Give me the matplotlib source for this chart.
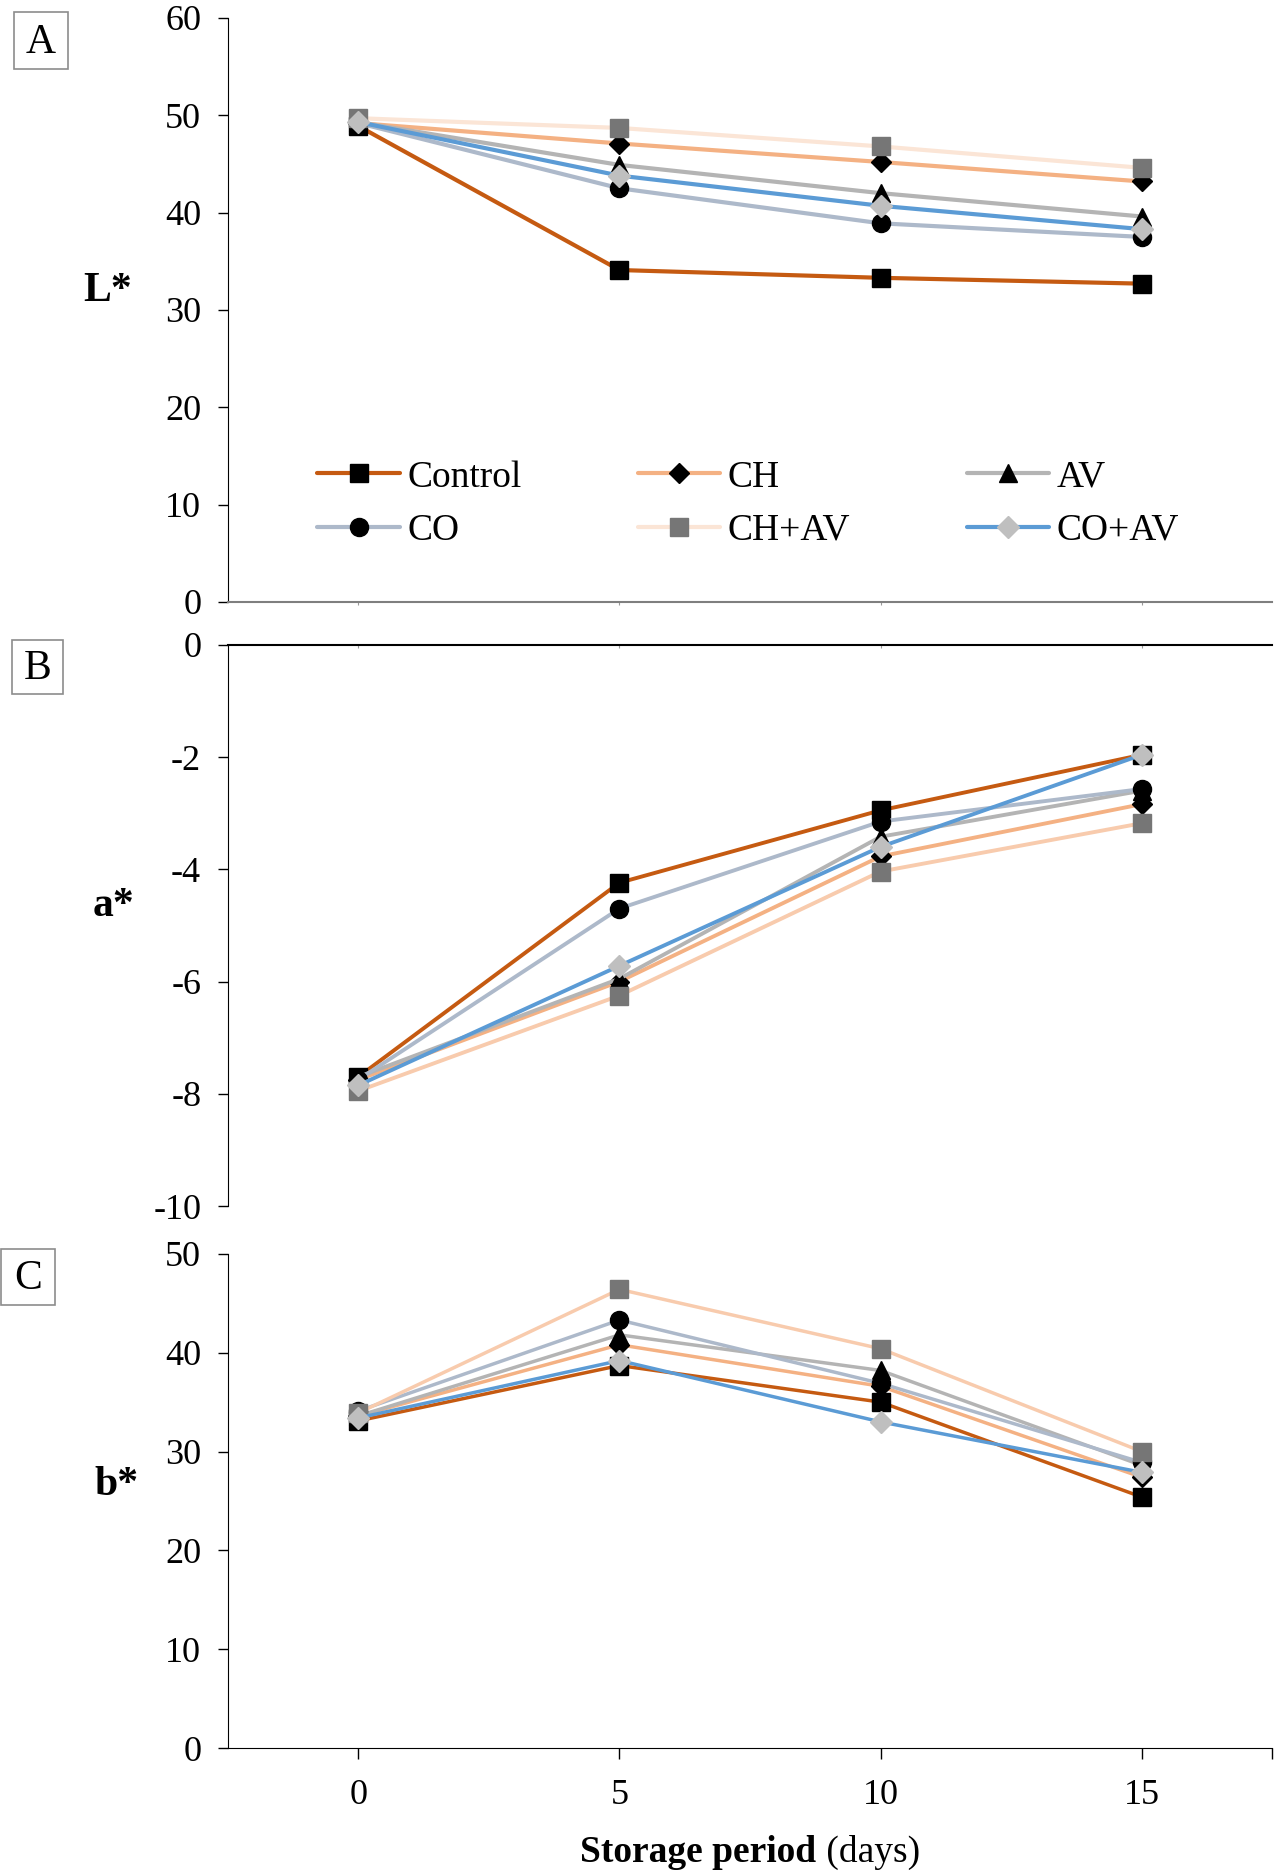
import matplotlib
matplotlib.use("Agg")
import matplotlib.pyplot as plt
from matplotlib.patches import Rectangle
from matplotlib.offsetbox import TextArea, HPacker, AnchoredOffsetbox

plt.rcParams['font.family'] = ['Liberation Serif', 'DejaVu Serif']
plt.rcParams['font.serif'] = ['Liberation Serif', 'DejaVu Serif']

SERIF = 'Liberation Serif'

days = [0, 5, 10, 15]
series_names = ['Control', 'CH', 'AV', 'CO', 'CH+AV', 'CO+AV']

# L* values
L_control = [48.9, 34.1, 33.3, 32.7]
L_ch = [49.2, 47.1, 45.2, 43.2]
L_av = [49.3, 44.9, 42.0, 39.6]
L_co = [49.2, 42.5, 38.9, 37.5]
L_chav = [49.7, 48.7, 46.8, 44.6]
L_coav = [49.3, 43.8, 40.7, 38.3]

# a* values
a_control = [-7.7, -4.24, -2.95, -1.96]
a_ch = [-7.75, -6.0, -3.77, -2.84]
a_av = [-7.7, -5.95, -3.42, -2.6]
a_co = [-7.75, -4.7, -3.15, -2.57]
a_chav = [-7.95, -6.25, -4.04, -3.18]
a_coav = [-7.85, -5.72, -3.6, -1.96]

# b* values
b_control = [33.1, 38.7, 35.0, 25.4]
b_ch = [33.6, 40.8, 36.6, 27.4]
b_av = [33.6, 41.8, 38.2, 28.6]
b_co = [34.1, 43.3, 36.9, 28.9]
b_chav = [33.9, 46.4, 40.4, 30.0]
b_coav = [33.4, 39.2, 33.0, 27.9]

line_colors = ['#C55A11', '#F4B183', '#B4B4B4', '#ADB9CA', '#F8CBAD', '#5B9BD5']
markers = ['s', 'D', '^', 'o', 's', 'D']
marker_sizes = [13, 10, 13, 13, 13, 11]
marker_faces = ['black', 'black', 'black', 'black', '#767676', '#BFBFBF']

fig = plt.figure(figsize=(12.75, 18.71), dpi=100)

L = 0.1785
W = 0.998 - L
axA = fig.add_axes([L, 0.6783, W, 0.9904 - 0.6783])
axB = fig.add_axes([L, 0.3554, W, 0.6554 - 0.3554])
axC = fig.add_axes([L, 0.0656, W, 0.3299 - 0.0656])


def draw(ax, data, lw, chav_color, yticks):
    lines = []
    for i, vals in enumerate(data):
        col = line_colors[i]
        if i == 4:
            col = chav_color
        ln, = ax.plot(days, vals, color=col, lw=lw, marker=markers[i],
                      ms=marker_sizes[i], mfc=marker_faces[i], mec=marker_faces[i],
                      label=series_names[i], solid_capstyle='round')
        lines.append(ln)
    ax.set_xlim(-2.5, 17.5)
    ax.spines['right'].set_visible(False)
    ax.set_yticks(yticks)
    ax.set_yticklabels([str(t) for t in yticks], fontfamily=SERIF, fontsize=26)
    ax.tick_params(axis='y', direction='out', length=7, width=1, pad=12)
    return lines


linesA = draw(axA, [L_control, L_ch, L_av, L_co, L_chav, L_coav], 3.0, '#FBE5D6',
              list(range(0, 61, 10)))
draw(axB, [a_control, a_ch, a_av, a_co, a_chav, a_coav], 2.8, '#F8CBAD',
     list(range(-10, 1, 2)))
draw(axC, [b_control, b_ch, b_av, b_co, b_chav, b_coav], 2.5, '#F8CBAD',
     list(range(0, 51, 10)))

# panel A
axA.set_ylim(0, 60)
axA.spines['top'].set_visible(False)
axA.spines['bottom'].set_color('#7F7F7F')
axA.spines['bottom'].set_linewidth(1.5)
axA.set_xticks(days)
axA.tick_params(axis='x', length=2, width=0.8, color='#999999', labelbottom=False)
axA.set_ylabel('L*', fontsize=30, fontweight='bold', rotation=0, fontfamily=SERIF)
axA.yaxis.set_label_coords(-0.115, 0.5)
order = [0, 3, 1, 4, 2, 5]
axA.legend([linesA[i] for i in order], [series_names[i] for i in order],
           ncol=3, loc='upper left', bbox_to_anchor=(0.068, 0.275), frameon=False,
           prop=dict(family=SERIF, size=27), handlelength=2.2, handletextpad=0.2,
           columnspacing=3.1, labelspacing=0.5, borderpad=0, markerscale=1.0)

# panel B
axB.set_ylim(-10, 0)
axB.spines['bottom'].set_visible(False)
axB.spines['top'].set_linewidth(1.5)
axB.set_xticks(days)
axB.tick_params(axis='x', top=True, bottom=False, direction='in', length=2,
                width=0.8, color='#999999', labelbottom=False, labeltop=False)
axB.set_ylabel('a*', fontsize=30, fontweight='bold', rotation=0, fontfamily=SERIF)
axB.yaxis.set_label_coords(-0.109, 0.5)

# panel C
axC.set_ylim(0, 50)
axC.spines['top'].set_visible(False)
axC.set_xticks(days + [17.5])
axC.set_xticklabels(['0', '5', '10', '15', ''], fontfamily=SERIF, fontsize=26)
axC.tick_params(axis='x', direction='out', length=8, width=1, pad=14)
axC.set_ylabel('b*', fontsize=30, fontweight='bold', rotation=0, fontfamily=SERIF)
axC.yaxis.set_label_coords(-0.106, 0.494)

# x label with bold and regular parts
t1 = TextArea('Storage period', textprops=dict(fontsize=27, fontweight='bold', family=SERIF))
t2 = TextArea(' (days)', textprops=dict(fontsize=27, family=SERIF))
box = HPacker(children=[t1, t2], align='baseline', pad=0, sep=0)
anc = AnchoredOffsetbox(loc='center', child=box, frameon=False,
                        bbox_to_anchor=(0.5, -0.21), bbox_transform=axC.transAxes,
                        borderpad=0, pad=0)
axC.add_artist(anc)

# panel letters
boxes = [('A', 0.0112, 0.9631, 0.042, 0.0306),
         ('B', 0.00935, 0.6293, 0.0402, 0.0287),
         ('C', 0.0008, 0.3025, 0.042, 0.030)]
for letter, x0, y0, w, h in boxes:
    fig.patches.append(Rectangle((x0, y0), w, h, transform=fig.transFigure,
                                 fill=False, ec='#8C8C8C', lw=1.2))
    fig.text(x0 + w / 2, y0 + h / 2 - 0.001, letter, fontsize=30,
             ha='center', va='center', family=SERIF)

fig.savefig('out.png', dpi=100)
